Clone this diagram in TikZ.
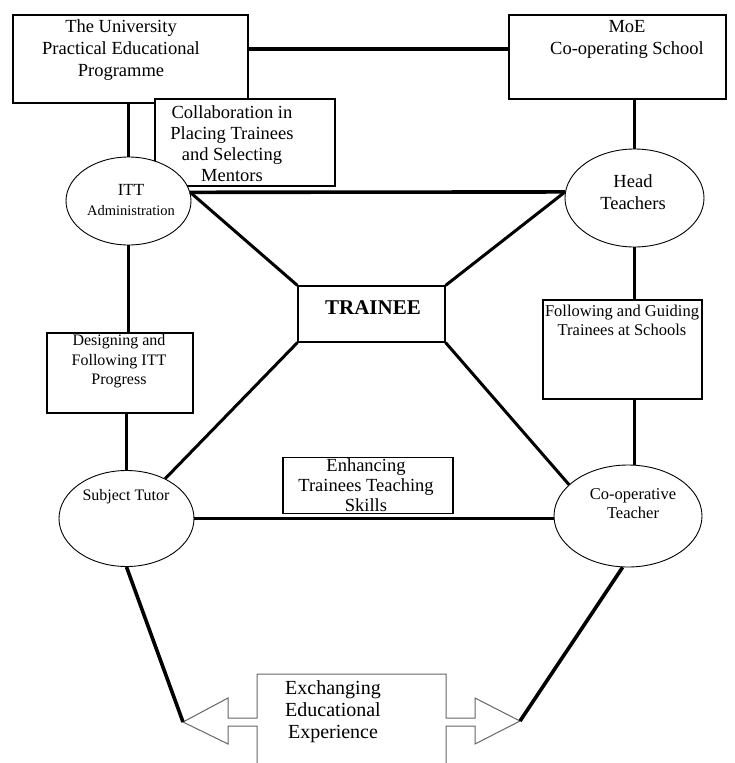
\documentclass[tikz,border=0pt]{standalone}
\usepackage{fontspec}
\setmainfont{Liberation Serif}
\usetikzlibrary{shapes.geometric, positioning}

\begin{document}
\begin{tikzpicture}[x=1pt, y=-1pt,
    box/.style={
        draw,
        line width=1.2pt,
        fill=white,
        inner sep=0pt
    },
    oval/.style={
        ellipse,
        draw,
        line width=0.9pt,
        fill=white,
        inner sep=0pt
    },
    bigtext/.style={
        align=center,
        inner sep=0pt,
        font=\fontsize{18.5}{22}\selectfont
    },
    smalltext/.style={
        align=center,
        inner sep=0pt,
        font=\fontsize{16.5}{19.5}\selectfont
    },
    conn/.style={line width=3.6pt},
    diag/.style={line width=3pt},
    outline/.style={draw=black!60, line width=1pt}
]
\useasboundingbox (0,0) rectangle (734,763);

% Boxes and ovals
\node[box, minimum width=235pt, minimum height=88pt] (univ) at (130.5,59) {};
\node[box, minimum width=217pt, minimum height=84pt] (moe) at (617.5,57) {};
\node[box, minimum width=180pt, minimum height=87pt] (collab) at (245,142.5) {};
\node[oval, minimum width=125pt, minimum height=88pt] (itt) at (128.5,201) {};
\node[oval, minimum width=139pt, minimum height=98pt] (head) at (634.5,198) {};
\node[box, minimum width=147pt, minimum height=56pt] (trainee) at (371.5,314) {};
\node[box, minimum width=146pt, minimum height=80pt] (design) at (120,373) {};
\node[box, minimum width=159pt, minimum height=99pt] (follow) at (622.5,349.5) {};
\node[oval, minimum width=135pt, minimum height=96pt] (tutor) at (126.5,518.5) {};
\node[oval, minimum width=148pt, minimum height=102pt] (coop) at (628,516) {};
\node[box, minimum width=170pt, minimum height=56pt] (enhance) at (368,485.5) {};

% Texts
\node[bigtext] (univtxt) at (121,50) {The University\\Practical Educational\\Programme};
\node[bigtext] (moetxt) at (627,39) {MoE\\Co-operating School};
\node[bigtext, font=\fontsize{18.5}{21}\selectfont] (collabtxt) at (232,143.5) {Collaboration in\\Placing Trainees\\and Selecting\\Mentors};
\node[bigtext, font=\fontsize{17}{20}\selectfont] (itttxt) at (131,200.5) {ITT\\{\fontsize{14.5}{17}\selectfont Administration}};
\node[bigtext] (headtxt) at (633,192) {Head\\Teachers};
\node[bigtext, font=\fontsize{21}{24}\selectfont\bfseries] (traineetxt) at (373,308) {TRAINEE};
\node[smalltext, font=\fontsize{16}{19.5}\selectfont] (designtxt) at (119,361.5) {Designing and\\Following ITT\\Progress};
\node[smalltext, font=\fontsize{16.5}{19}\selectfont] (followtxt) at (622,320.5) {Following and Guiding\\Trainees at Schools};
\node[smalltext, font=\fontsize{16}{19}\selectfont] (tutortxt) at (126,497) {Subject Tutor};
\node[smalltext, font=\fontsize{16.5}{19}\selectfont] (cooptxt) at (633,503.5) {Co-operative\\Teacher};
\node[bigtext, font=\fontsize{18.5}{20}\selectfont] (enhancetxt) at (366,485) {Enhancing\\Trainees Teaching\\Skills};
\node[bigtext, font=\fontsize{20}{22}\selectfont] (exchtxt) at (333,712) {Exchanging\\Educational\\Experience};

% Exchange box with its two arrows (cut at the page bottom)
\coordinate (ltip) at (183,722);
\coordinate (rtip) at (520,721);
\draw[outline] (257,763) -- (257,726) -- (228,726) -- (228,744) -- (ltip) -- (228,698)
    -- (228,718) -- (257,718) -- (257,674) -- (446,674) -- (446,718) -- (475,718)
    -- (475,698) -- (rtip) -- (475,744) -- (475,726) -- (446,726) -- (446,763);

% Connectors
\draw[conn] ([yshift=8pt]moe.west) -- ([yshift=8pt]moe.west -| univ.east);
\draw[conn] (univ.south -| itt.north) -- (itt.north);
\draw[conn] (moe.south -| head.north) -- (head.north);
\draw[conn] (itt.south) -- (itt.south |- design.north);
\draw[conn] (design.south -| tutor.north) -- (tutor.north);
\draw[conn] (head.south) -- (head.south |- follow.north);
\draw[conn] (follow.south -| head.south) -- (head.south |- coop.north);
\draw[conn] (itt.8) -- (head.175);
\draw[conn] (tutor.east) -- (tutor.east -| coop.west);
\draw[diag] (itt.8) -- (trainee.north west);
\draw[diag] (head.175) -- (trainee.north east);
\draw[diag] (trainee.south west) -- (tutor);
\draw[diag] (trainee.south east) -- (coop.152);
\draw[conn] (tutor.south) -- (ltip);
\draw[conn] (coop.264) -- (rtip);

\end{tikzpicture}
\end{document}
